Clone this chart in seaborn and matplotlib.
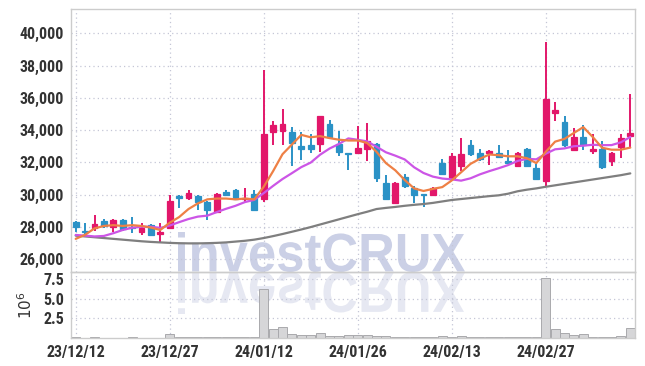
import numpy as np
import pandas as pd
import matplotlib
matplotlib.use('Agg')
import matplotlib.pyplot as plt
import seaborn as sns
from matplotlib.ticker import FuncFormatter
from matplotlib.textpath import TextPath
from matplotlib.patches import PathPatch
from matplotlib.font_manager import FontProperties
from matplotlib.transforms import Affine2D

# daily data (KRW)
dates = ['2023-12-12', '2023-12-13', '2023-12-14', '2023-12-15', '2023-12-18', '2023-12-19',
         '2023-12-20', '2023-12-21', '2023-12-22', '2023-12-26', '2023-12-27', '2023-12-28',
         '2024-01-02', '2024-01-03', '2024-01-04', '2024-01-05', '2024-01-08', '2024-01-09',
         '2024-01-10', '2024-01-11', '2024-01-12', '2024-01-15', '2024-01-16', '2024-01-17',
         '2024-01-18', '2024-01-19', '2024-01-22', '2024-01-23', '2024-01-24', '2024-01-25',
         '2024-01-26', '2024-01-29', '2024-01-30', '2024-01-31', '2024-02-01', '2024-02-02',
         '2024-02-05', '2024-02-06', '2024-02-07', '2024-02-08', '2024-02-13', '2024-02-14',
         '2024-02-15', '2024-02-16', '2024-02-19', '2024-02-20', '2024-02-21', '2024-02-22',
         '2024-02-23', '2024-02-26', '2024-02-27', '2024-02-28', '2024-02-29', '2024-03-04',
         '2024-03-05', '2024-03-06', '2024-03-07', '2024-03-08', '2024-03-11', '2024-03-12']

opens = [28300, 27750, 27950, 28350, 28000, 28450, 28000, 27700, 28100, 27550,
         27900, 29900, 29800, 29900, 29550, 28900, 30150, 30300, 29720, 30050,
         29700, 33900, 33950, 33850, 33000, 33050, 33150, 34350, 33150, 32550,
         32550, 32800, 33150, 30700, 29500, 31100, 30400, 30050, 30000, 31950,
         31050, 31750, 33100, 32600, 32550, 32600, 32100, 31750, 32850, 31650,
         30850, 35050, 34500, 32750, 33550, 32700, 32850, 32050, 32950, 33600]
highs = [28350, 28250, 28750, 28500, 28500, 28500, 28600, 28250, 28150, 28250,
         30000, 29950, 30250, 29950, 29600, 30100, 30300, 30350, 30400, 30250,
         37700, 34550, 35300, 34200, 33850, 33750, 34900, 34600, 33950, 32600,
         34250, 34450, 33200, 31200, 30750, 31250, 30500, 30050, 30450, 32200,
         32550, 33500, 33400, 32800, 32750, 33050, 32750, 32650, 32900, 31900,
         39450, 35750, 34850, 34150, 34300, 33750, 33300, 32650, 33750, 36250]
lows = [27700, 27450, 27750, 27900, 27700, 27750, 27600, 27500, 27450, 27050,
        27850, 29150, 29650, 29050, 28400, 28850, 29900, 29700, 29550, 29000,
        29550, 33100, 33050, 31750, 32150, 32550, 32650, 33450, 32400, 31500,
        32500, 32100, 30750, 29700, 29450, 30400, 29500, 29200, 29950, 31200,
        30900, 31450, 32400, 32100, 31850, 32250, 31900, 31750, 31700, 30950,
        30550, 34550, 32950, 32700, 32750, 32500, 31600, 31750, 32250, 32950]
closes = [28000, 27700, 28150, 28050, 28450, 27850, 27900, 27900, 27500, 27650,
          29600, 29800, 30100, 29550, 29050, 30050, 29950, 29750, 29800, 29050,
          33750, 34300, 34350, 33200, 32800, 32850, 34850, 33550, 32650, 32500,
          32900, 33300, 31050, 29750, 30700, 30500, 30000, 30000, 30400, 31300,
          32400, 32500, 32500, 32200, 32700, 32300, 31950, 32550, 31750, 30950,
          35900, 35250, 33050, 33550, 33050, 32850, 31700, 32600, 33500, 33800]

# moving averages as drawn (5, 10 and 60 day)
ma5 = [27250, 27500, 27900, 28050, 28100, 28050, 28100, 28050, 27950, 27800,
       28250, 28600, 29100, 29450, 29700, 29750, 29750, 29700, 29750, 29700,
       30480, 31450, 32500, 33100, 33700, 33550, 33620, 33500, 33400, 33350,
       33350, 33200, 32650, 31950, 31500, 30900, 30380, 30220, 30350, 30460,
       30870, 31380, 31900, 32220, 32480, 32440, 32370, 32370, 32250, 31950,
       32640, 33280, 33450, 33820, 34180, 33570, 32900, 32780, 32780, 32910]
ma10 = [27490, 27450, 27400, 27430, 27600, 27800, 27940, 28000, 28000, 27930,
        28075, 28285, 28480, 28630, 28690, 28910, 29115, 29300, 29530, 29670,
        30085, 30535, 30960, 31325, 31700, 31980, 32470, 32850, 33135, 33480,
        33395, 33295, 32965, 32620, 32410, 32175, 31690, 31335, 31110, 30990,
        30940, 30860, 31005, 31250, 31450, 31630, 31825, 32080, 32215, 32180,
        32530, 32805, 32860, 32995, 33030, 33085, 33060, 33065, 33240, 33565]
ma60 = [27450, 27400, 27350, 27300, 27250, 27200, 27150, 27100, 27060, 27030,
        27000, 26980, 26970, 26970, 26980, 27000, 27030, 27080, 27130, 27200,
        27300, 27420, 27550, 27690, 27830, 27980, 28140, 28300, 28460, 28620,
        28780, 28930, 29100, 29170, 29230, 29300, 29360, 29410, 29480, 29570,
        29660, 29720, 29780, 29840, 29900, 29950, 30050, 30200, 30300, 30380,
        30480, 30570, 30660, 30750, 30840, 30930, 31020, 31110, 31200, 31310]

volume = [80000, 60000, 120000, 60000, 60000, 50000, 120000, 60000, 50000, 60000,
          450000, 150000, 150000, 100000, 120000, 120000, 120000, 100000, 100000, 120000,
          6300000, 1180000, 1420000, 540000, 420000, 420000, 680000, 300000, 300000, 320000,
          400000, 400000, 300000, 200000, 150000, 150000, 150000, 150000, 150000, 280000,
          150000, 280000, 150000, 150000, 150000, 100000, 100000, 100000, 150000, 150000,
          7600000, 1100000, 700000, 320000, 520000, 150000, 150000, 150000, 280000, 1310000]

tick_dates = ['2023-12-12', '2023-12-27', '2024-01-12', '2024-01-26', '2024-02-13', '2024-02-27']

up_col = '#e2176a'
down_col = '#2b92c6'

sns.set_style('white')
plt.rcParams['font.family'] = ['Liberation Sans Narrow', 'Roboto Condensed',
                               'Open Sans Condensed', 'Liberation Sans', 'DejaVu Sans']

df = pd.DataFrame({'date': pd.to_datetime(dates), 'open': opens, 'high': highs,
                   'low': lows, 'close': closes, 'ma5': ma5, 'ma10': ma10,
                   'ma60': ma60, 'volume': volume})
df['idx'] = np.arange(len(df))
df['up'] = df['close'] >= df['open']
cols = np.where(df['up'], up_col, down_col)

fig = plt.figure(figsize=(6.45, 3.66), dpi=100)
fig.patch.set_facecolor('white')
W, H = 645.0, 366.0
ax = fig.add_axes([71 / W, 1 - 272 / H, (635 - 71) / W, (272 - 9) / H])
axv = fig.add_axes([71 / W, 1 - 338 / H, (635 - 71) / W, (338 - 272) / H], sharex=ax)
for a in (ax, axv):
    a.set_facecolor('none')

# watermark and its reflection
fp = FontProperties(family='Liberation Sans', weight='bold')
tp = TextPath((0, 0), 'investCRUX', size=10, prop=fp)
ext = tp.get_extents()
sx = 287 / ext.width
sy = 40 / ext.height
t1 = Affine2D().translate(-ext.x0, -ext.y0).scale(sx, sy).translate(178, H - 272)
t2 = Affine2D().translate(-ext.x0, -ext.y0).scale(sx, -sy * 1.05).translate(178, H - 272)
fig.add_artist(PathPatch(tp, transform=t1, facecolor='#cbd0e6', edgecolor='none', zorder=-1))
fig.add_artist(PathPatch(tp, transform=t2, facecolor='#e6e8f2', edgecolor='none', zorder=-1))

# candles
body = (df['close'] - df['open']).abs().clip(lower=60)
bottom = df[['open', 'close']].min(axis=1)
ax.vlines(df['idx'], df['low'], df['high'], colors=cols, lw=1.4, zorder=3)
ax.bar(df['idx'], body, bottom=bottom, width=0.62, color=cols, edgecolor=cols,
       linewidth=0.9, zorder=3)

# moving averages
sns.lineplot(data=df, x='idx', y='ma60', ax=ax, color='#7f7f7f', lw=1.6, zorder=4)
sns.lineplot(data=df, x='idx', y='ma10', ax=ax, color='#cc55e6', lw=1.6, zorder=4)
sns.lineplot(data=df, x='idx', y='ma5', ax=ax, color='#ee8045', lw=1.6, zorder=5)

# volume
sns.barplot(data=df, x='idx', y='volume', native_scale=True, width=0.95, color='#d6d6d8',
            edgecolor='#a9a9ad', linewidth=0.7, saturation=1, ax=axv, zorder=2)

tick_pos = [dates.index(d) for d in tick_dates]
tick_lab = [pd.to_datetime(d).strftime('%y/%m/%d') for d in tick_dates]

ax.set_xlim(-0.5, 59.5)
ax.set_ylim(25194, 41507)
ax.set_yticks(np.arange(26000, 40001, 2000))
ax.yaxis.set_major_formatter(FuncFormatter(lambda v, p: '{:,.0f}'.format(v)))
ax.set_xticks(tick_pos)
ax.tick_params(axis='x', labelbottom=False, length=0)

axv.set_ylim(0, 8.4e6)
axv.set_yticks([2.5e6, 5e6, 7.5e6])
axv.set_yticklabels(['2.5', '5.0', '7.5'])
axv.set_xticks(tick_pos)
axv.set_xticklabels(tick_lab)
axv.set_xlim(-0.5, 59.5)
axv.set_xlabel('')
axv.set_ylabel('$10^6$', fontsize=11, color='#333333', labelpad=6)
ax.set_xlabel('')
ax.set_ylabel('')

for a in (ax, axv):
    a.grid(True, linestyle=(0, (1, 2.5)), color='#c4c6d6', lw=0.9, zorder=0)
    a.set_axisbelow(True)
    a.tick_params(length=0, labelsize=11.5, labelcolor='#333333', pad=5)
    for lab in a.get_xticklabels() + a.get_yticklabels():
        lab.set_fontweight('bold')
    for s in a.spines.values():
        s.set_color('#cccccc')
        s.set_linewidth(1)

fig.savefig('out.png', dpi=100)
